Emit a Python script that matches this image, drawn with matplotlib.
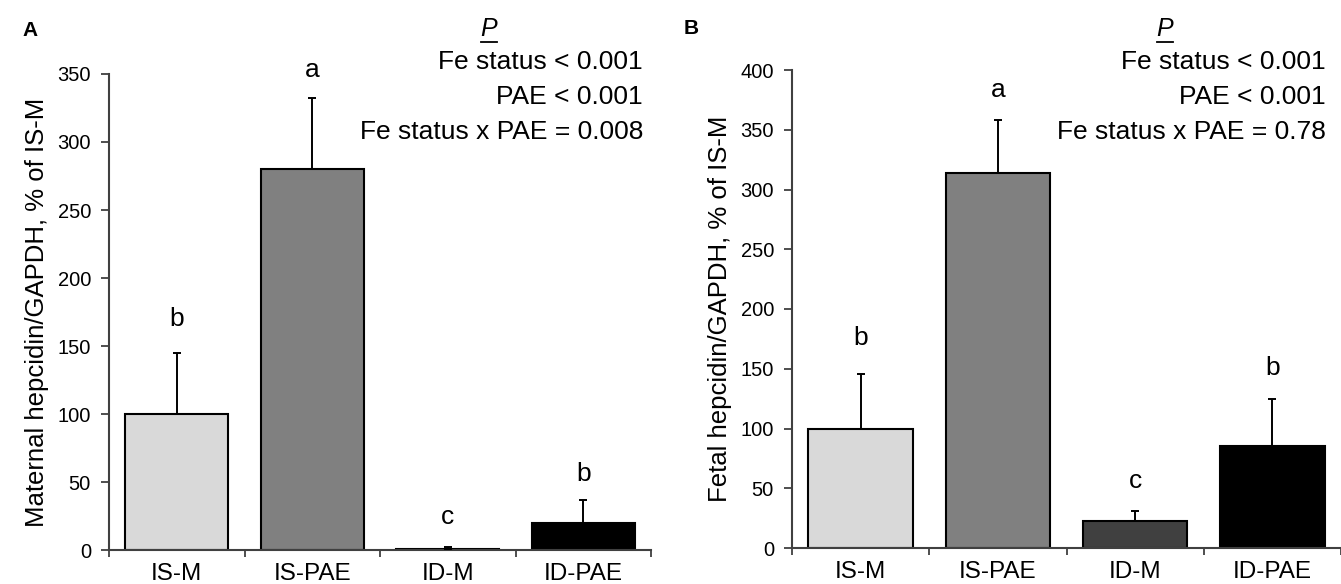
import matplotlib
matplotlib.use("Agg")
import matplotlib.pyplot as plt
from matplotlib.lines import Line2D
import numpy as np

plt.rcParams['font.family'] = ['Liberation Sans', 'DejaVu Sans']

groups = ["IS-M", "IS-PAE", "ID-M", "ID-PAE"]
colors = ["#d9d9d9", "#808080", "#404040", "#000000"]

maternal_mean = [100, 280, 0.8, 20]
maternal_err = [45, 52, 1.2, 17]
maternal_letters = ["b", "a", "c", "b"]
maternal_letter_y = [170, 353, 24, 56]

fetal_mean = [100, 314, 23, 85]
fetal_err = [46, 44, 8, 40]
fetal_letters = ["b", "a", "c", "b"]
fetal_letter_y = [176, 383, 56, 151]

maternal_p = ["Fe status < 0.001", "PAE < 0.001", "Fe status x PAE = 0.008"]
fetal_p = ["Fe status < 0.001", "PAE < 0.001", "Fe status x PAE = 0.78"]

W, H = 1341, 584
fig = plt.figure(figsize=(W / 100, H / 100), dpi=100)


def px(x, y):
    return x / W, 1 - y / H


def panel(rect, means, errs, letters, letter_y, ylim, ystep, ylabel, xmax,
          ptexts, p_right, p_center, panel_letter, panel_xy):
    ax = fig.add_axes(rect)
    x = np.arange(len(groups))
    ax.bar(x, means, width=0.76, color=colors, edgecolor="black", linewidth=1.5, zorder=2)
    ax.errorbar(x, means, yerr=[np.zeros(len(errs)), errs], fmt="none",
                ecolor="black", elinewidth=1.4, capsize=3, capthick=1.4, zorder=3)
    for xi, lab, ly in zip(x, letters, letter_y):
        ax.text(xi, ly, lab, ha="center", va="center", fontsize=19)
    ax.set_xlim(-0.5, xmax)
    ax.set_ylim(0, ylim)
    ax.set_yticks(np.arange(0, ylim + 1, ystep))
    ax.set_xticks(x)
    ax.set_xticklabels(groups, fontsize=17.5)
    ax.set_xticks(np.arange(-0.5, 3.51, 1.0), minor=True)
    ax.tick_params(axis="x", which="major", length=0, pad=9)
    ax.tick_params(axis="x", which="minor", length=5, width=1.3, color="#404040", direction="out")
    ax.tick_params(axis="y", length=6, width=1.3, color="#404040", labelsize=14.5, pad=7)
    for s in ["top", "right"]:
        ax.spines[s].set_visible(False)
    for s in ["left", "bottom"]:
        ax.spines[s].set_linewidth(1.5)
        ax.spines[s].set_color("#404040")
    ax.set_ylabel(ylabel, fontsize=18.5, labelpad=6)
    # P statistics block
    fx, fy = px(p_center, 29)
    fig.text(fx, fy, "P", ha="center", va="center", fontsize=18, style="italic")
    ux0, uy = px(p_center - 8, 42)
    ux1, _ = px(p_center + 8, 42)
    fig.add_artist(Line2D([ux0, ux1], [uy, uy], color="black", linewidth=1.3))
    for t, yy in zip(ptexts, [62, 97, 132]):
        tx, ty = px(p_right, yy)
        fig.text(tx, ty, t, ha="right", va="center", fontsize=19)
    lx, ly = px(*panel_xy)
    fig.text(lx, ly, panel_letter, ha="center", va="center", fontsize=15, fontweight="bold")
    return ax


axA = panel([109 / W, 34 / H, 542 / W, 476 / H], maternal_mean, maternal_err,
            maternal_letters, maternal_letter_y, 350, 50,
            "Maternal hepcidin/GAPDH, % of IS-M", 3.4,
            maternal_p, 643, 489, "A", (30, 30))
axB = panel([792 / W, 36 / H, 549 / W, 478 / H], fetal_mean, fetal_err,
            fetal_letters, fetal_letter_y, 400, 50,
            "Fetal hepcidin/GAPDH, % of IS-M", 3.45,
            fetal_p, 1326, 1165, "B", (691, 28))

fig.savefig("out.png", dpi=100)
